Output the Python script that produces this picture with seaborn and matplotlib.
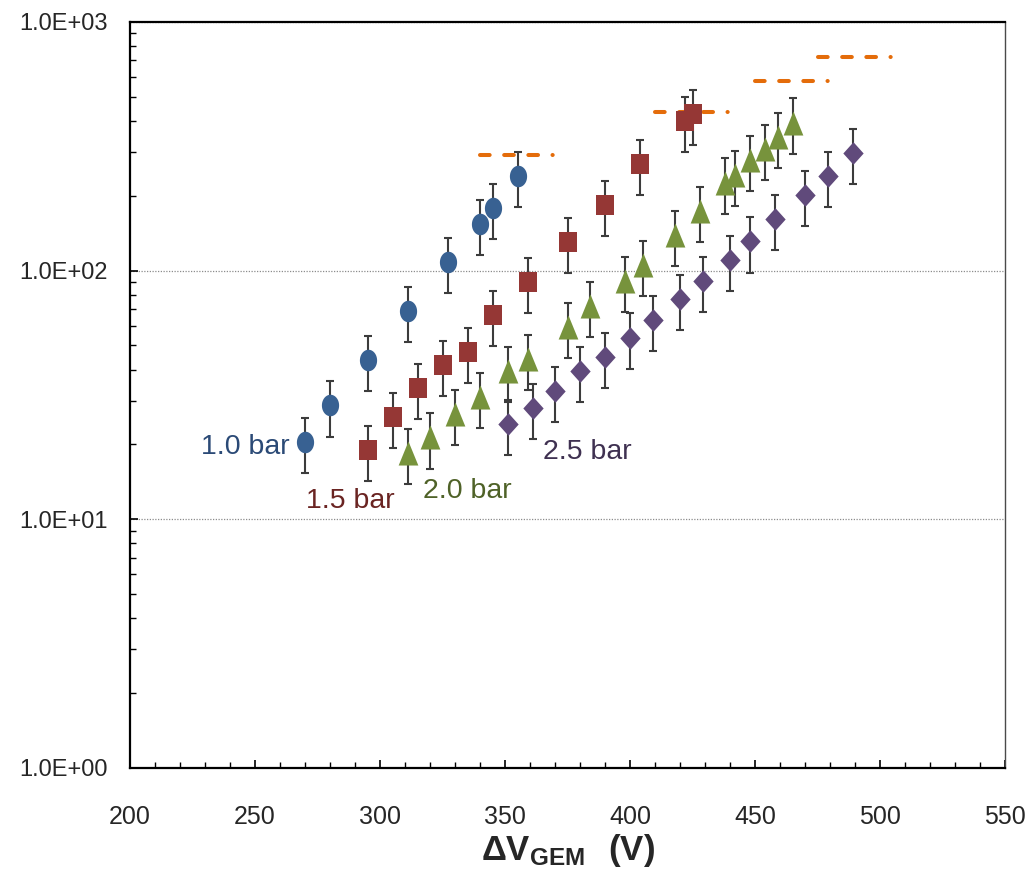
import numpy as np
import matplotlib
matplotlib.use("Agg")
import matplotlib.pyplot as plt
from matplotlib.path import Path
from matplotlib.ticker import MultipleLocator, LogLocator, FuncFormatter, NullFormatter
import seaborn as sns

# Effective gain vs. GEM voltage, four gas pressures (values with absolute errors)
v_10 = [270, 280, 295, 311, 327, 340, 345, 355]
g_10 = [20.4, 28.7, 43.6, 69.0, 108, 154, 179, 240]
e_10 = [5.1, 7.2, 10.9, 17.3, 27, 38.5, 44.8, 60]

v_15 = [295, 305, 315, 325, 335, 345, 359, 375, 390, 404, 422, 425]
g_15 = [19.0, 25.8, 33.8, 41.8, 47.0, 66.2, 90.3, 130, 183, 268, 401, 427]
e_15 = [4.8, 6.5, 8.5, 10.5, 11.8, 16.6, 22.6, 32.5, 45.8, 67, 100, 107]

v_20 = [311, 320, 330, 340, 351, 359, 375, 384, 398, 405, 418, 428, 438, 442, 448, 454, 459, 465]
g_20 = [18.5, 21.4, 26.5, 31.0, 39.3, 44.2, 59.4, 71.9, 91.1, 105, 139, 174, 226, 243, 279, 309, 344, 394]
e_20 = [4.6, 5.4, 6.6, 7.8, 9.8, 11.1, 14.9, 18.0, 22.8, 26.3, 34.8, 43.5, 56.5, 60.8, 69.8, 77.3, 86, 98.5]

v_25 = [351, 361, 370, 380, 390, 400, 409, 420, 429, 440, 448, 458, 470, 479, 489]
g_25 = [24.1, 28.1, 32.8, 39.3, 44.9, 53.8, 63.4, 76.7, 90.6, 110, 131, 161, 202, 240, 297]
e_25 = [6.0, 7.0, 8.2, 9.8, 11.2, 13.5, 15.9, 19.2, 22.7, 27.5, 32.8, 40.3, 50.5, 60, 74.3]

pressures = ["1.0 bar", "1.5 bar", "2.0 bar", "2.5 bar"]

# Maximum stable gain reached at each pressure
limit_v_start = [340, 410, 450, 475]
limit_v_end = [370, 440, 480, 505]
limit_gain = [292, 433, 577, 721]

x_ticks = [200, 250, 300, 350, 400, 450, 500, 550]
y_ticks = [1, 10, 100, 1000]

sns.set_theme(style="white")
plt.rcParams["font.family"] = ["Liberation Sans", "DejaVu Sans"]
plt.rcParams["mathtext.fontset"] = "custom"
plt.rcParams["mathtext.rm"] = "Liberation Sans"
plt.rcParams["mathtext.bf"] = "Liberation Sans:bold"

fig = plt.figure(figsize=(10.32, 8.82), dpi=100)
ax = fig.add_axes([0.126, 0.1293, 0.848, 0.8458])


def shape(points):
    return Path(np.asarray(points, dtype=float))


theta = np.linspace(0, 2 * np.pi, 60)
ellipse = shape(np.column_stack([0.40 * np.cos(theta), 0.5 * np.sin(theta)]))
square = shape([(-0.42, -0.5), (0.42, -0.5), (0.42, 0.5), (-0.42, 0.5), (-0.42, -0.5)])
triangle = shape([(-0.41, -0.5), (0.41, -0.5), (0.0, 0.5), (-0.41, -0.5)])
diamond = shape([(0.0, -0.5), (0.45, 0.0), (0.0, 0.5), (-0.45, 0.0), (0.0, -0.5)])

series = [
    (v_10, g_10, e_10, ellipse, 240, "#386192"),
    (v_15, g_15, e_15, square, 215, "#953735"),
    (v_20, g_20, e_20, triangle, 300, "#77933c"),
    (v_25, g_25, e_25, diamond, 265, "#604a7b"),
]

for v, g, e, mk, size, col in series:
    ax.errorbar(v, g, yerr=e, fmt="none", ecolor="#3c3c3c", elinewidth=1.5,
                capsize=2.9, capthick=1.5, zorder=2)
    sns.scatterplot(x=v, y=g, marker=mk, s=size, color=col, linewidth=0,
                    ax=ax, zorder=3, legend=False)

limits = ax.hlines(limit_gain, limit_v_start, limit_v_end, colors="#e46c0a", linewidth=2.9,
                   linestyles=[(0, (2.4, 3.6, 2.4, 3.6, 2.4, 3.6, 0.05, 3.6))],
                   zorder=2)
limits.set_capstyle("round")

label_colors = ["#2b4a76", "#6a2422", "#4f6228", "#3f3151"]
label_x = [246, 288, 335, 383]
label_y = [19.5, 11.9, 13.0, 18.7]
for txt, lx, ly, col in zip(pressures, label_x, label_y, label_colors):
    ax.text(lx, ly, txt, color=col, fontsize=20.5, ha="center", va="center")

ax.set_yscale("log")
ax.set_xlim(200, 550)
ax.set_ylim(1, 1000)

ax.xaxis.set_minor_locator(MultipleLocator(10))
ax.set_xticks(x_ticks)
ax.set_yticks(y_ticks)
ax.yaxis.set_major_formatter(FuncFormatter(lambda val, pos: f"{val:.1E}"))
ax.yaxis.set_minor_locator(LogLocator(base=10, subs=np.arange(2, 10)))
ax.yaxis.set_minor_formatter(NullFormatter())

ax.tick_params(axis="both", which="both", direction="in", color="black",
               bottom=True, left=True, top=False, right=False)
ax.tick_params(axis="both", which="major", length=6, width=1.2)
ax.tick_params(axis="both", which="minor", length=4.5, width=1.0)
ax.tick_params(axis="x", which="major", pad=27, labelsize=18)
ax.tick_params(axis="y", which="major", pad=16, labelsize=17)

ax.yaxis.grid(True, which="major", color="#8c8c8c", linestyle=(0, (1, 1.2)), linewidth=0.9)
ax.xaxis.grid(False)

for side in ["left", "bottom", "top"]:
    ax.spines[side].set_color("black")
    ax.spines[side].set_linewidth(1.6)
ax.spines["right"].set_color("#4a4a4a")
ax.spines["right"].set_linewidth(1.0)

ax.set_xlabel(r"$\mathbf{\Delta V_{GEM}\ \ (V)}$", fontsize=25, labelpad=2)
ax.set_ylabel("")

fig.savefig("out.png", dpi=100)
